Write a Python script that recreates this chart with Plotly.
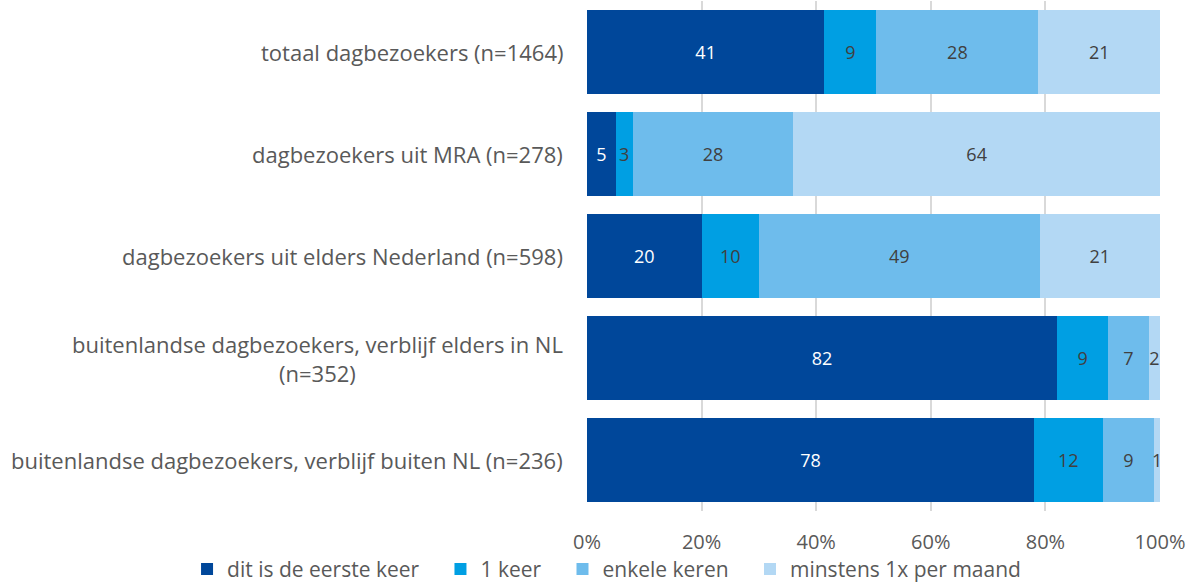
import plotly.graph_objects as go

categories = [
    "totaal dagbezoekers (n=1464)",
    "dagbezoekers uit MRA (n=278)",
    "dagbezoekers uit elders Nederland (n=598)",
    "buitenlandse dagbezoekers, verblijf elders in NL<br>(n=352)",
    "buitenlandse dagbezoekers, verblijf buiten NL (n=236)",
]
series_names = ["dit is de eerste keer", "1 keer", "enkele keren", "minstens 1x per maand"]
eerste_keer = [41, 5, 20, 82, 78]
een_keer = [9, 3, 10, 9, 12]
enkele_keren = [28, 28, 49, 7, 9]
maandelijks = [21, 64, 21, 2, 1]
tick_vals = [0, 20, 40, 60, 80, 100]
tick_text = ["0%", "20%", "40%", "60%", "80%", "100%"]

colors = ["#00479A", "#009FE3", "#6EBCEC", "#B3D8F4"]
text_colors = ["#FFFFFF", "#404040", "#404040", "#404040"]
FONT = "Open Sans"
PAD = "\u00a0\u00a0\u00a0"

fig = go.Figure()
for i, (name, vals, col, tcol) in enumerate(zip(series_names,
                                 [eerste_keer, een_keer, enkele_keren, maandelijks],
                                 colors, text_colors)):
    fig.add_trace(go.Bar(
        y=categories, x=vals, name=name + (PAD if i < 3 else ""), orientation="h",
        marker=dict(color=col, line=dict(width=0)),
        text=[str(v) for v in vals], texttemplate="%{text}",
        textposition="inside", insidetextanchor="middle",
        constraintext="none",
        textfont=dict(family=FONT, size=18, color=tcol),
        hoverinfo="skip",
    ))

# category labels as annotations (centred multi-line)
for c in categories:
    fig.add_annotation(
        x=0, xref="paper", y=c, yref="y", text=c, showarrow=False,
        xanchor="right", xshift=-22, align="center",
        font=dict(family=FONT, size=22, color="#595959"),
    )

fig.update_layout(
    width=1204, height=583,
    barmode="stack", barnorm="percent", bargap=0.17,
    plot_bgcolor="white", paper_bgcolor="white",
    margin=dict(l=587, r=44, t=1, b=72, autoexpand=False),
    font=dict(family=FONT, size=20, color="#595959"),
    showlegend=True,
    legend=dict(orientation="h", xref="paper", yref="paper",
                x=-0.698, y=-0.074, xanchor="left", yanchor="top",
                bgcolor="rgba(0,0,0,0)",
                font=dict(family=FONT, size=21, color="#595959"),
                traceorder="normal", itemwidth=30, tracegroupgap=0),
    xaxis=dict(range=[0, 100], tickvals=tick_vals, ticktext=tick_text,
               showgrid=True, gridcolor="#D9D9D9", gridwidth=1.5,
               zeroline=False, ticks="outside", ticklen=13, tickcolor="rgba(0,0,0,0)",
               tickfont=dict(family=FONT, size=20, color="#595959")),
    yaxis=dict(autorange="reversed", showticklabels=False, showgrid=False,
               zeroline=False),
)

fig.write_html("out.html", config={"displayModeBar": False},
               post_script="document.body.style.margin='0';document.body.style.overflow='hidden';")
